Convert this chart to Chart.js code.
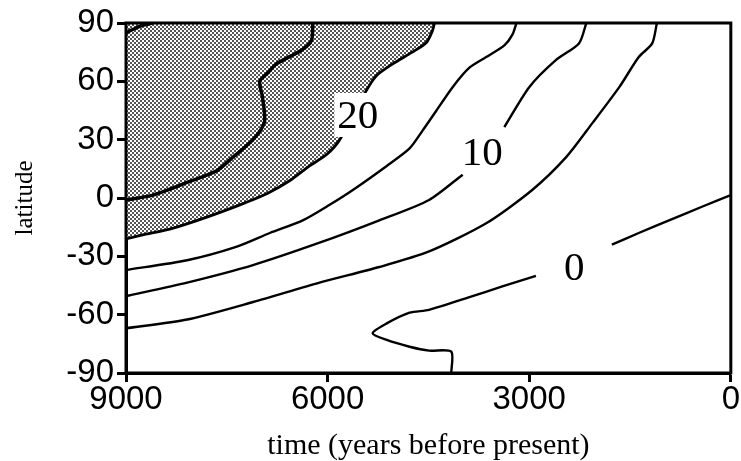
<!DOCTYPE html>
<html>
<head>
<meta charset="utf-8">
<script src="https://cdn.jsdelivr.net/npm/chart.js@4.4.1/dist/chart.umd.min.js"></script>
<style>
  html, body { margin: 0; padding: 0; background: #fff; }
  #wrap { width: 741px; height: 461px; }
</style>
</head>
<body>
<div id="wrap"><canvas id="chart"></canvas></div>
<script>
// --- Axis ticks ---
const xTicks = [9000, 6000, 3000, 0];
const yTicks = [90, 60, 30, 0, -30, -60, -90];

// --- Contours: years before present / latitude (null = gap for a label) ---
const c30Years = [9000, 8780, 8610];
const c30Lats  = [85, 88.5, 90];

const c25Years = [6220, 6240, 6390, 6760, 6900, 7010, 6970, 6940, 7110, 7410, 7650, 8090, 8600, 9000];
const c25Lats  = [90, 81, 76, 69, 64, 60, 52, 39, 30, 21, 14, 8, 1.5, -1];

const c20Years = [4410, 4440, 4530, 4740, 5030, 5270, 5420, 5820, 6010, 6270, 6560, 6890, 7230, 7570, 7980, 8350, 8690, 9000];
const c20Lats  = [90, 86, 80, 75, 69, 63, 55.5, 30, 22.5, 16.5, 9, 2.5, -2.5, -7, -12, -16, -18.5, -21];

const c15Years = [3190, 3250, 3370, 3640, 3890, 4140, 4380, 4590, 4780, 5120, 5630, 5970, 6370, 6860, 7350, 8090, 9000];
const c15Lats  = [90, 84, 78.5, 72.5, 67, 57, 45, 34.5, 25.5, 16.5, 4, -3.5, -11.5, -18, -25, -32, -37];

const c10Years = [2150, 2260, 2600, 3000, 3370, null, 3990, 4490, 5230, 6120, 7110, 8090, 9000];
const c10Lats  = [90, 79.5, 71, 57, 36.5, null, 12, -1, -11.5, -23, -34.5, -43.5, -50.5];

const c5Years = [1100, 1170, 1370, 1660, 2060, 2450, 2960, 3640, 4490, 5230, 6120, 7110, 8090, 9000];
const c5Lats  = [90, 79.5, 72.5, 57, 38.5, 21, 4, -13, -27.5, -35.5, -43.5, -53.5, -62.5, -67];

const c0Years = [0, 430, 920, 1370, 1770, null, 2900, 3400, 3890, 4490, 4780, 5120, 5330, 5120, 4780, 4490, 4160, 4160];
const c0Lats  = [1.5, -4.5, -11.5, -18, -24, null, -40, -45.5, -51, -57.5, -59, -64.5, -69.5, -73, -76.5, -78.5, -79, -90];

// --- Contour labels ---
const labelTexts = ['20', '10', '0'];
const labelYears = [5550, 3700, 2330];
const labelLats  = [42.7, 23.7, -35.5];

function toPoints(xs, ys) {
    return xs.map((x, i) => ({ x: x, y: ys[i] }));
}

// stippled grey fill
function stipple() {
    const c = document.createElement('canvas');
    c.width = 4; c.height = 4;
    const g = c.getContext('2d');
    g.fillStyle = '#fff';
    g.fillRect(0, 0, 4, 4);
    g.fillStyle = '#555';
    g.fillRect(0, 0, 2, 2);
    g.fillRect(2, 2, 2, 2);
    return g.createPattern(c, 'repeat');
}

function contour(xs, ys, width) {
    return {
        data: toPoints(xs, ys),
        borderColor: '#000',
        borderWidth: width,
        pointRadius: 0,
        fill: false,
        tension: 0.25,
        spanGaps: false,
        order: 0
    };
}

// frame + contour labels
const overlay = {
    id: 'overlay',
    afterDatasetsDraw(chart) {
        const ctx = chart.ctx;
        const xs = chart.scales.x, ys = chart.scales.y;
        ctx.save();
        ctx.font = '41px "Liberation Serif", "Times New Roman", serif';
        ctx.textAlign = 'center';
        ctx.textBaseline = 'middle';
        labelTexts.forEach((t, i) => {
            const px = xs.getPixelForValue(labelYears[i]);
            const py = ys.getPixelForValue(labelLats[i]);
            const w = ctx.measureText(t).width + 6;
            ctx.fillStyle = '#fff';
            ctx.fillRect(px - w / 2, py - 22, w, 44);
            ctx.fillStyle = '#000';
            ctx.fillText(t, px, py + 2);
        });
        const a = chart.chartArea;
        ctx.strokeStyle = '#000';
        ctx.lineWidth = 3;
        ctx.strokeRect(a.left, a.top, a.right - a.left, a.bottom - a.top);
        ctx.restore();
    }
};

const tickFont = { family: '"Liberation Sans", Arial, sans-serif', size: 33, lineHeight: 1 };
const titleFont = { family: '"Liberation Serif", "Times New Roman", serif', size: 30, lineHeight: 1 };

new Chart(document.getElementById('chart').getContext('2d'), {
    type: 'line',
    data: {
        datasets: [
            // shaded area (drawn first, behind the contour lines)
            Object.assign(contour(c20Years, c20Lats, 2.8), { fill: 'end', backgroundColor: stipple(), order: 1 }),
            contour(c30Years, c30Lats, 3.5),
            contour(c25Years, c25Lats, 3.5),
            contour(c15Years, c15Lats, 2.4),
            contour(c10Years, c10Lats, 2.4),
            contour(c5Years, c5Lats, 2.4),
            contour(c0Years, c0Lats, 2.4)
        ]
    },
    options: {
        responsive: true,
        maintainAspectRatio: false,
        animation: false,
        layout: { padding: { top: 23, right: 9, left: 0, bottom: 0 } },
        plugins: { legend: { display: false }, tooltip: { enabled: false } },
        scales: {
            x: {
                type: 'linear',
                reverse: true,
                min: 0, max: 9000,
                afterBuildTicks: s => { s.ticks = xTicks.map(v => ({ value: v })); },
                afterFit: s => { s.height = 88; },
                grid: { drawOnChartArea: false, drawTicks: true, tickLength: 9, tickWidth: 3, color: '#000' },
                border: { display: true, width: 3, color: '#000' },
                ticks: { color: '#000', font: tickFont, padding: 1, maxRotation: 0, callback: v => String(v) },
                title: { display: true, text: 'time (years before present)', color: '#000', font: titleFont, padding: { top: 0, bottom: 0 } }
            },
            y: {
                min: -90, max: 90,
                afterBuildTicks: s => { s.ticks = yTicks.map(v => ({ value: v })); },
                afterFit: s => { s.width = 126; },
                grid: { drawOnChartArea: false, drawTicks: true, tickLength: 9, tickWidth: 3, color: '#000' },
                border: { display: true, width: 3, color: '#000' },
                ticks: { color: '#000', font: tickFont, padding: 3, callback: v => String(v) },
                title: { display: true, text: 'latitude', color: '#000', font: { family: '"Liberation Serif", "Times New Roman", serif', size: 25, lineHeight: 1 }, padding: { top: 13, bottom: 0 } }
            }
        }
    },
    plugins: [overlay]
});
</script>
</body>
</html>
